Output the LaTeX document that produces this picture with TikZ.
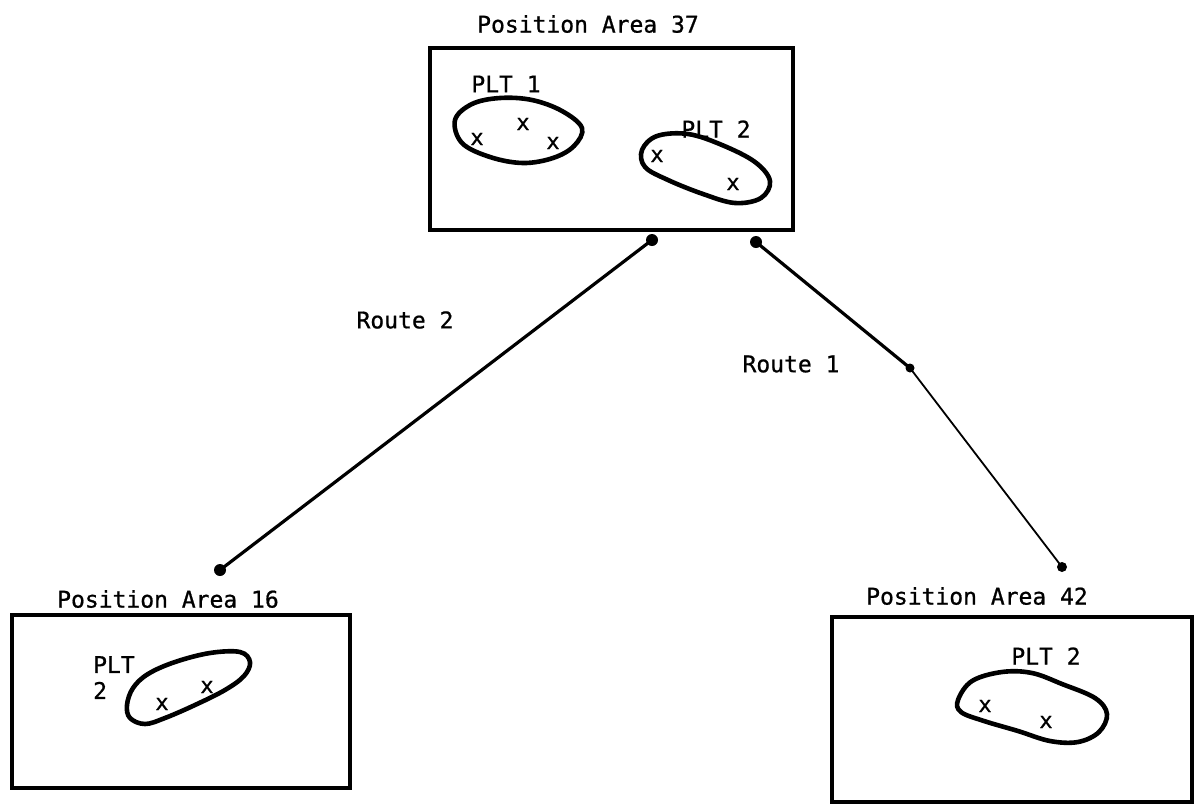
\documentclass[tikz,border=0pt]{standalone}
\usepackage{fontspec}
\setmonofont[FakeBold=0.8]{DejaVu Sans Mono}
\begin{document}
\begin{tikzpicture}[x=1pt,y=-1pt,
  lbl/.style={font=\ttfamily\fontsize{23}{26}\selectfont, inner sep=0pt, anchor=center},
  vmark/.style={font=\ttfamily\fontsize{22}{24}\selectfont, inner sep=0pt},
  area/.style={draw, line width=3.6pt, inner sep=0pt},
  blob/.style={draw, line width=4.6pt, line join=round},
  route/.style={line width=3.2pt},
  thinroute/.style={line width=1.8pt},
  dot/.style={circle, fill=black, inner sep=0pt, minimum size=12pt}]
\useasboundingbox (0,0) rectangle (1195,804);

% boxes
\node[area, minimum width=363pt, minimum height=182pt] (a37) at (611.5,139) {};
\node[area, minimum width=338pt, minimum height=173pt] (a16) at (181,701.5) {};
\node[area, minimum width=360pt, minimum height=185pt] (a42) at (1012,709.5) {};

% titles
\node[lbl] (t37) at (588,24) {Position Area 37};
\node[lbl] (t16) at (168,599) {Position Area 16};
\node[lbl] (t42) at (977,596) {Position Area 42};

% platoon areas
\draw[blob] plot[smooth cycle, tension=0.6] coordinates {(455,120) (472,104) (500,98) (532,100) (562,111) (582,128) (574,146) (553,158) (523,163) (490,157) (462,143)};
\draw[blob] plot[smooth cycle, tension=0.6] coordinates {(642,150) (657,136) (688,134) (722,145) (755,162) (770,181) (761,198) (735,203) (703,194) (668,180) (645,167)};
\draw[blob] plot[smooth cycle, tension=0.6] coordinates {(127,705) (133,688) (148,674) (175,662) (210,653) (240,652) (250,662) (244,676) (225,690) (195,705) (165,718) (145,724) (130,718)};
\draw[blob] plot[smooth cycle, tension=0.6] coordinates {(958,700) (972,681) (1002,672) (1032,673) (1062,684) (1095,698) (1107,714) (1099,732) (1078,742) (1050,741) (1018,731) (984,721) (961,712)};

% platoon labels
\node[lbl] (p1) at (506,84) {PLT 1};
\node[lbl] (p2) at (716,129) {PLT 2};
\node[lbl, align=left, anchor=north west] (p16) at (93,656) {PLT\\2};
\node[lbl] (p42) at (1046,656) {PLT 2};

% vehicle marks
\node[vmark] (x1) at (477,139) {x};
\node[vmark] (x2) at (523,124) {x};
\node[vmark] (x3) at (553,143) {x};
\node[vmark] (x4) at (657,156) {x};
\node[vmark] (x5) at (733,184) {x};
\node[vmark] (x6) at (162,704) {x};
\node[vmark] (x7) at (207,687) {x};
\node[vmark] (x8) at (985,706) {x};
\node[vmark] (x9) at (1046,722) {x};

% routes
\node[dot] (r2a) at (652,240) {};
\node[dot] (r2b) at (220,570) {};
\node[dot] (r1a) at (756,242) {};
\node[dot, minimum size=9pt] (r1m) at (910,368) {};
\node[dot, minimum size=10pt] (r1b) at (1062,567) {};
\draw[route] (r2a.center) -- (r2b.center);
\draw[route] (r1a.center) -- (r1m.center);
\draw[thinroute] (r1m.center) -- (r1b.center);

\node[lbl] (l2) at (405,320) {Route 2};
\node[lbl] (l1) at (791,364) {Route 1};
\end{tikzpicture}
\end{document}
